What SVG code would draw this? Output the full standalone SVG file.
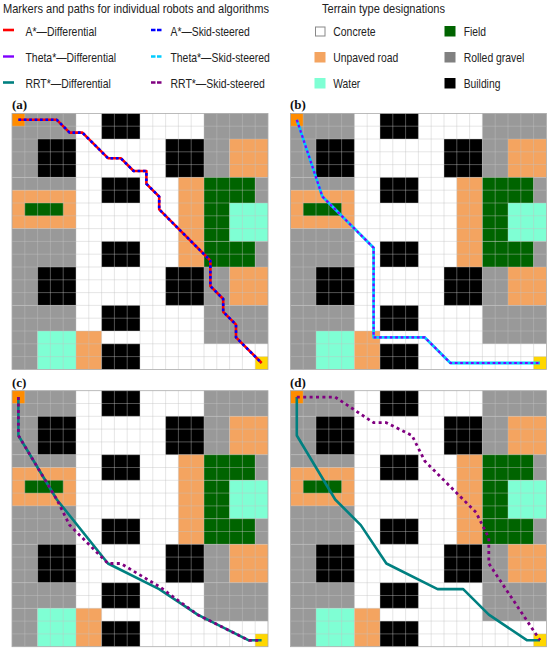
<svg xmlns="http://www.w3.org/2000/svg" xmlns:xlink="http://www.w3.org/1999/xlink" width="550" height="650" viewBox="0 0 550 650">
<style>
text{font-family:"Liberation Sans",Arial,sans-serif;font-size:13px;fill:#222}
.lab{font-family:"Liberation Serif","Times New Roman",serif;font-weight:bold;font-size:13px;fill:#111}
.p{fill:none;stroke-linejoin:round}
.g{fill:#999}.k{fill:#000}.s{fill:#f4a460}.f{fill:#006400}.w{fill:#7fffd4}
.grid{stroke:#c4c4c4;stroke-width:.7;stroke-opacity:.6;fill:none}
.red{stroke:#ff0000;stroke-width:2.6}
.blue{stroke:#0000ff;stroke-width:2.6;stroke-dasharray:2.7 2.7}
.vio{stroke:#7f00ff;stroke-width:2.4}
.cyan{stroke:#00ccff;stroke-width:2.8;stroke-dasharray:2.7 2.7}
.teal{stroke:#008080;stroke-width:2.6}
.pur{stroke:#800080;stroke-width:2.8;stroke-dasharray:3 3.4}
</style>
<defs>
<g id="map">
<rect width="256" height="256" fill="#fff"/>
<rect class="g" x="0" y="0" width="64" height="25.6"/>
<rect class="k" x="89.6" y="0" width="38.4" height="25.6"/>
<rect class="g" x="192" y="0" width="64" height="25.6"/>
<rect class="g" x="0" y="25.6" width="25.6" height="38.4"/>
<rect class="k" x="25.6" y="25.6" width="38.4" height="38.4"/>
<rect class="k" x="153.6" y="25.6" width="38.4" height="38.4"/>
<rect class="g" x="192" y="25.6" width="25.6" height="38.4"/>
<rect class="s" x="217.6" y="25.6" width="38.4" height="38.4"/>
<rect class="g" x="0" y="64" width="64" height="12.8"/>
<rect class="k" x="89.6" y="64" width="38.4" height="25.6"/>
<rect class="s" x="166.4" y="64" width="25.6" height="89.6"/>
<rect class="f" x="192" y="64" width="51.2" height="25.6"/>
<rect class="g" x="243.2" y="64" width="12.8" height="25.6"/>
<rect class="s" x="0" y="76.8" width="64" height="38.4"/>
<rect class="f" x="12.8" y="89.6" width="38.4" height="12.8"/>
<rect class="f" x="192" y="89.6" width="25.6" height="38.4"/>
<rect class="w" x="217.6" y="89.6" width="38.4" height="38.4"/>
<rect class="g" x="0" y="115.2" width="64" height="38.4"/>
<rect class="k" x="89.6" y="128" width="38.4" height="25.6"/>
<rect class="f" x="192" y="128" width="51.2" height="25.6"/>
<rect class="g" x="243.2" y="128" width="12.8" height="25.6"/>
<rect class="g" x="0" y="153.6" width="25.6" height="38.4"/>
<rect class="k" x="25.6" y="153.6" width="38.4" height="38.4"/>
<rect class="k" x="153.6" y="153.6" width="38.4" height="38.4"/>
<rect class="g" x="192" y="153.6" width="25.6" height="38.4"/>
<rect class="s" x="217.6" y="153.6" width="38.4" height="38.4"/>
<rect class="g" x="0" y="192" width="64" height="25.6"/>
<rect class="k" x="89.6" y="192" width="38.4" height="25.6"/>
<rect class="g" x="192" y="192" width="64" height="38.4"/>
<rect class="g" x="0" y="217.6" width="25.6" height="38.4"/>
<rect class="w" x="25.6" y="217.6" width="38.4" height="38.4"/>
<rect class="s" x="64" y="217.6" width="25.6" height="38.4"/>
<rect class="k" x="89.6" y="230.4" width="38.4" height="25.6"/>
<rect x="0" y="0" width="12.8" height="12.8" fill="#ff8c00"/>
<rect x="243.2" y="243.2" width="12.8" height="12.8" fill="#ffd700"/>
<path class="grid" d="M12.8 0V256M25.6 0V256M38.4 0V256M51.2 0V256M64 0V256M76.8 0V256M89.6 0V256M102.4 0V256M115.2 0V256M128 0V256M140.8 0V256M153.6 0V256M166.4 0V256M179.2 0V256M192 0V256M204.8 0V256M217.6 0V256M230.4 0V256M243.2 0V256M0 12.8H256M0 25.6H256M0 38.4H256M0 51.2H256M0 64H256M0 76.8H256M0 89.6H256M0 102.4H256M0 115.2H256M0 128H256M0 140.8H256M0 153.6H256M0 166.4H256M0 179.2H256M0 192H256M0 204.8H256M0 217.6H256M0 230.4H256M0 243.2H256"/>
<rect width="256" height="256" fill="none" stroke="#aaa" stroke-width=".8"/>
</g>
<path id="pa" d="M6.4 6.4H44.8L57.6 19.2H70.4L96 44.8H108.8L121.6 57.6H134.4V70.4L147.2 83.2V96L198.4 147.2V172.8L211.2 185.6V198.4L224 211.2V224L249.6 249.6"/>
<path id="pb" d="M6.4 6.4L32 83.2L83.2 134.4V224H134.4L160 249.6H249.6"/>
</defs>

<g id="legend-paths">
<text x="3" y="12.5" textLength="266" lengthAdjust="spacingAndGlyphs">Markers and paths for individual robots and algorithms</text>
<g id="leg-astar-diff"><path class="p red" d="M3 30H14"/><text x="25.5" y="36" textLength="71" lengthAdjust="spacingAndGlyphs">A*—Differential</text></g>
<g id="leg-theta-diff"><path class="p vio" d="M3 56.5H14"/><text x="25.5" y="62.3" textLength="90.7" lengthAdjust="spacingAndGlyphs">Theta*—Differential</text></g>
<g id="leg-rrt-diff"><path class="p teal" d="M3 82.5H14"/><text x="25.5" y="88" textLength="85.3" lengthAdjust="spacingAndGlyphs">RRT*—Differential</text></g>
<g id="leg-astar-skid"><path class="p" stroke="#0000ff" stroke-width="2.4" stroke-dasharray="4.5 1.5" d="M151 30H162"/><text x="170.5" y="36" textLength="79.3" lengthAdjust="spacingAndGlyphs">A*—Skid-steered</text></g>
<g id="leg-theta-skid"><path class="p" stroke="#00ccff" stroke-width="2.4" stroke-dasharray="4.5 1.5" d="M151 56.5H162"/><text x="170.5" y="62.3" textLength="99.3" lengthAdjust="spacingAndGlyphs">Theta*—Skid-steered</text></g>
<g id="leg-rrt-skid"><path class="p" stroke="#800080" stroke-width="2.4" stroke-dasharray="4.5 1.5" d="M151 82.5H162"/><text x="170.5" y="88" textLength="94.3" lengthAdjust="spacingAndGlyphs">RRT*—Skid-steered</text></g>
</g>

<g id="legend-terrain">
<text x="322" y="12.5" textLength="123" lengthAdjust="spacingAndGlyphs">Terrain type designations</text>
<g id="leg-concrete"><rect x="315.5" y="27" width="9.5" height="9" fill="#fff" stroke="#888"/><text x="333.3" y="36" textLength="42.3" lengthAdjust="spacingAndGlyphs">Concrete</text></g>
<g id="leg-unpaved"><rect class="s" x="314.5" y="52" width="11" height="10.5"/><text x="333.3" y="62.3" textLength="65" lengthAdjust="spacingAndGlyphs">Unpaved road</text></g>
<g id="leg-water"><rect class="w" x="314.5" y="78" width="11" height="10.5"/><text x="333.3" y="88" textLength="27" lengthAdjust="spacingAndGlyphs">Water</text></g>
<g id="leg-field"><rect class="f" x="444.5" y="26" width="11" height="10.5"/><text x="463.7" y="36" textLength="22.3" lengthAdjust="spacingAndGlyphs">Field</text></g>
<g id="leg-gravel"><rect x="444.5" y="52" width="11" height="10.5" fill="#808080"/><text x="463.7" y="62.3" textLength="60.7" lengthAdjust="spacingAndGlyphs">Rolled gravel</text></g>
<g id="leg-building"><rect class="k" x="444.5" y="78" width="11" height="10.5"/><text x="463.7" y="88" textLength="36.7" lengthAdjust="spacingAndGlyphs">Building</text></g>
</g>

<g id="panel-a">
<text class="lab" x="12" y="109">(a)</text>
<g transform="translate(12 113.4)"><use href="#map"/>
<g id="paths-a"><use href="#pa" class="p red"/><use href="#pa" class="p blue"/></g></g>
</g>
<g id="panel-b">
<text class="lab" x="290" y="109">(b)</text>
<g transform="translate(290.4 113.4)"><use href="#map"/>
<g id="paths-b"><use href="#pb" class="p cyan" style="stroke-dasharray:none"/><use href="#pb" class="p vio" style="stroke-dasharray:2.7 2.7;stroke-width:2.2"/></g></g>
</g>
<g id="panel-c">
<text class="lab" x="12" y="387">(c)</text>
<g transform="translate(12 390.7)"><use href="#map"/>
<g id="paths-c"><path class="p teal" d="M6.4 6.4V44.8L44.8 108.8L96 172.8L147.2 198.4L185.6 224L236.8 249.6H249.6"/>
<path class="p pur" d="M6.4 6.4V44.8L44.8 108.8L57.6 134.4L96 172.8H108.8L147.2 195.8L185.6 224L236.8 249.6H249.6"/></g></g>
</g>
<g id="panel-d">
<text class="lab" x="290" y="387">(d)</text>
<g transform="translate(290.4 390.7)"><use href="#map"/>
<g id="paths-d"><path class="p teal" d="M6.4 6.4V44.8L44.8 108.8L70.4 134.4L96 172.8L147.2 198.4H172.8L198.4 224L236.8 249.6H249.6"/>
<path class="p pur" d="M6.4 6.4H44.8L83.2 32H96L121.6 44.8L134.4 70.4L147.2 83.2L172.8 108.8L185.6 121.6L198.4 147.2V172.8L249.6 249.6"/></g></g>
</g>
</svg>
